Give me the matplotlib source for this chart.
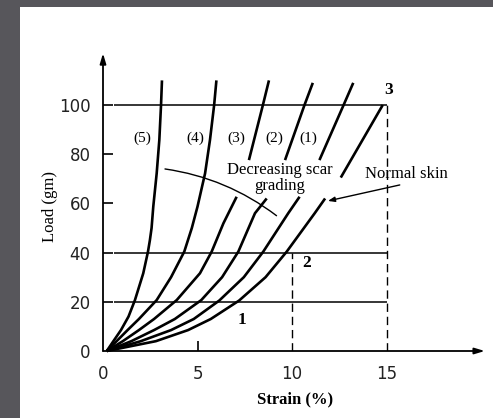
import matplotlib
matplotlib.use('Agg')
import matplotlib.pyplot as plt
import numpy as np
from matplotlib.patches import Rectangle

nan = np.nan

# load-strain curves, (5) = worst scar ... (1), then normal skin
# nan marks the breaks left for the labels
strain_5 = [0.2, 0.55, 0.95, 1.35, 1.69, 2.13, 2.38, 2.48, 2.57, 2.66, 2.84, 2.98, 3.07, 3.12]
load_5 = [0, 4, 8.5, 14, 20.7, 31.6, 40.4, 45, 50, 58.7, 72.2, 85.8, 100, 110]
strain_4 = [0.2, 0.72, 1.3, 1.9, 2.84, 3.6, 4.3, 4.7, 5.0, 5.40, 5.66, 5.88, 6.0]
load_4 = [0, 4, 8.5, 13, 20.7, 30, 40.4, 50, 58.7, 72.2, 85.8, 100, 110]
strain_3 = [0.2, 1.05, 1.9, 2.7, 3.9, 5.13, 5.75, 6.37, 7.07, nan, 7.72, 8.46, 8.78]
load_3 = [0, 4, 8.5, 13, 20.7, 31.6, 40.4, 51.9, 62.7, nan, 77.6, 100, 110]
strain_2 = [0.2, 1.5, 2.7, 3.8, 5.2, 6.3, 7.16, 8.04, 8.66, nan, 9.63, 10.66, 11.1]
load_2 = [0, 4, 8.5, 13, 20.7, 30, 40.4, 56, 62, nan, 77.6, 100, 109]
strain_1 = [0.2, 2.0, 3.6, 4.8, 6.15, 7.45, 8.48, 9.8, 10.4, nan, 11.45, 12.73, 13.24]
load_1 = [0, 4, 8.5, 13, 20.5, 30, 40.4, 56, 62.7, nan, 77.6, 100, 109]
strain_n = [0.2, 2.8, 4.5, 5.7, 7.2, 8.6, 9.72, 11.2, 11.75, nan, 12.58, 14.8]
load_n = [0, 4, 8.5, 13, 20.5, 30, 40.4, 56, 62, nan, 70.5, 100]

curve_labels = ['(5)', '(4)', '(3)', '(2)', '(1)']
curve_label_x = [2.1, 4.9, 7.07, 9.05, 10.85]

ref_loads = [20, 40, 100]
ref_strains = [10, 15]
ref_strain_tops = [40, 100]

x_ticks = [0, 5, 10, 15]
y_ticks = [0, 20, 40, 60, 80, 100]

serif = 'Liberation Serif'

fig = plt.figure(figsize=(4.93, 4.18), dpi=100)
fig.patch.set_facecolor('#57565b')
fig.patches.append(Rectangle((20 / 493, 0), 1, 411 / 418, transform=fig.transFigure,
                             facecolor='white', edgecolor='none', zorder=-5))

ax = fig.add_axes([103 / 493, 67 / 418, 389 / 493, 300 / 418])
ax.set_xlim(0, 20.58)
ax.set_ylim(0, 121.95)
ax.patch.set_alpha(0)
for s in ax.spines.values():
    s.set_visible(False)

# axes with arrow heads
ax.annotate('', xy=(20.2, 0), xytext=(0, 0), annotation_clip=False,
            arrowprops=dict(arrowstyle='-|>,head_length=0.6,head_width=0.18',
                            lw=1.3, color='black', shrinkA=0, shrinkB=0))
ax.annotate('', xy=(0, 121), xytext=(0, 0), annotation_clip=False,
            arrowprops=dict(arrowstyle='-|>,head_length=0.6,head_width=0.18',
                            lw=1.3, color='black', shrinkA=0, shrinkB=0))

ax.set_xticks(x_ticks)
ax.set_yticks(y_ticks)
ax.tick_params(axis='x', direction='in', length=7, width=1.2, pad=10,
               labelsize=12, colors='black')
ax.tick_params(axis='y', direction='in', length=7, width=1.2, pad=9,
               labelsize=12, colors='black')
for i, t in enumerate(ax.xaxis.get_major_ticks()):
    if x_ticks[i] != 5:
        t.tick1line.set_visible(False)
ax.yaxis.get_major_ticks()[0].tick1line.set_visible(False)
for lab in ax.get_xticklabels() + ax.get_yticklabels():
    lab.set_fontfamily('DejaVu Sans')
    lab.set_color('#222222')

ax.set_xlabel('Strain (%)', fontfamily=serif, fontweight='bold', fontsize=12)
ax.xaxis.set_label_coords(0.494, -0.135)
ax.set_ylabel('Load (gm)', fontfamily=serif, fontsize=12)
ax.yaxis.label.set_va('center')
ax.yaxis.set_label_coords(-0.136, 0.48)

# reference lines
ax.hlines(ref_loads, 0.6, 15, colors='black', lw=1.1)
ax.vlines(ref_strains, 0, ref_strain_tops, colors='black', lw=1.0,
          linestyles=(0, (6, 3.5)))

for xs, ys in [(strain_5, load_5), (strain_4, load_4), (strain_3, load_3),
               (strain_2, load_2), (strain_1, load_1), (strain_n, load_n)]:
    ax.plot(xs, ys, color='black', lw=1.9, solid_capstyle='butt',
            solid_joinstyle='round', clip_on=False)

for lab, x in zip(curve_labels, curve_label_x):
    ax.text(x, 86.3, lab, ha='center', va='center', fontfamily=serif, fontsize=11)

ax.text(9.37, 70.3, 'Decreasing scar\ngrading', ha='center', va='center',
        fontfamily=serif, fontsize=12, linespacing=1.0, multialignment='center')
ax.annotate('', xy=(9.18, 55), xytext=(3.28, 74),
            arrowprops=dict(arrowstyle='-', connectionstyle='arc3,rad=-0.13',
                            lw=1.0, color='black', shrinkA=0, shrinkB=0))

ax.text(16.06, 71.8, 'Normal skin', ha='center', va='center',
        fontfamily=serif, fontsize=12)
ax.annotate('', xy=(11.9, 61), xytext=(15.7, 67.5),
            arrowprops=dict(arrowstyle='-|>,head_length=0.4,head_width=0.15',
                            lw=1.0, color='black', shrinkA=0, shrinkB=0))

for lab, x, y in [('1', 7.33, 12.6), ('2', 10.77, 35.6), ('3', 15.1, 106)]:
    ax.text(x, y, lab, ha='center', va='center', fontfamily=serif,
            fontweight='bold', fontsize=12.5)

fig.savefig('out.png', dpi=100, facecolor=fig.get_facecolor())
